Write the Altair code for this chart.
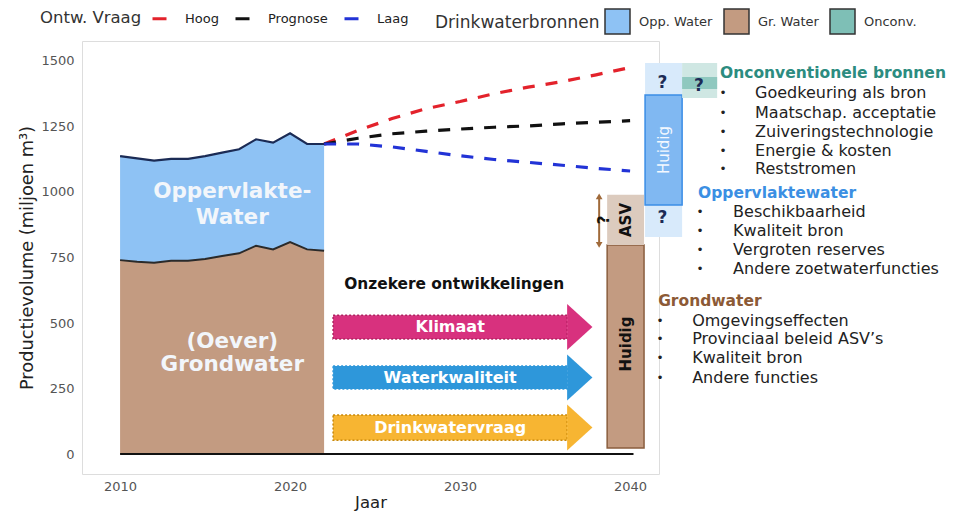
import altair as alt
import pandas as pd

# ---------------- data ----------------
jaren = list(range(2010, 2023))
totaal = [1137, 1128, 1120, 1126, 1126, 1137, 1150, 1163, 1201, 1188, 1224, 1183, 1183]
grondwater = [740, 734, 730, 738, 738, 744, 756, 766, 795, 781, 809, 781, 776]

prog_jaren = [2022, 2024, 2026, 2028, 2030, 2032, 2034, 2036, 2038, 2040]
hoog = [1183, 1235, 1280, 1318, 1345, 1375, 1400, 1421, 1447, 1475]
prognose = [1183, 1205, 1222, 1232, 1240, 1247, 1252, 1260, 1266, 1272]
laag = [1183, 1183, 1172, 1155, 1138, 1124, 1113, 1102, 1090, 1080]
scenarios = ["Hoog", "Prognose", "Laag"]

bronnen = ["Opp. Water", "Gr. Water", "Onconv."]

# 2040 capacity boxes (x in years, y in miljoen m3)
box_namen = ["Opp. band", "Gr. huidig", "ASV", "Opp. huidig", "Onconv. band", "Onconv. kern"]
box_x1 = [2040.88, 2038.65, 2038.65, 2040.88, 2043.06, 2043.06]
box_x2 = [2043.06, 2040.82, 2040.82, 2043.06, 2045.12, 2045.12]
box_y1 = [828, 23, 798, 950, 1359, 1393]
box_y2 = [1492, 798, 989, 1370, 1492, 1439]

# uncertain developments (arrows)
pijl_labels = ["Klimaat", "Waterkwaliteit", "Drinkwatervraag"]
pijl_start = [2022.53, 2022.53, 2022.53]
pijl_eind = [2036.3, 2036.3, 2036.3]
pijl_kop = [2037.04, 2037.04, 2037.04]
pijl_boven = [530, 336, 149]
pijl_onder = [439, 248, 53]
pijl_midden = [485, 292, 101]

# texts
vlak_tekst = ["Oppervlakte-", "Water", "(Oever)", "Grondwater"]
vlak_x = [2016.6, 2016.6, 2016.6, 2016.6]
vlak_y = [1000, 901, 428, 340]

kop_tekst = ["Onconventionele bronnen", "Oppervlaktewater", "Grondwater"]
kop_x = [2045.29, 2044.0, 2041.65]
kop_y = [1453, 997, 585]

onconv_items = ["Goedkeuring als bron", "Maatschap. acceptatie", "Zuiveringstechnologie",
                "Energie & kosten", "Reststromen"]
onconv_y = [1377, 1303, 1230, 1158, 1087]
opp_items = ["Beschikbaarheid", "Kwaliteit bron", "Vergroten reserves", "Andere zoetwaterfuncties"]
opp_y = [922, 851, 779, 706]
grond_items = ["Omgevingseffecten", "Provinciaal beleid ASV\u2019s", "Kwaliteit bron", "Andere functies"]
grond_y = [509, 439, 366, 291]
item_x = [2047.35, 2046.06, 2043.65]
bullet_x = [2045.47, 2044.12, 2041.76]

vraag_x = [2041.9, 2041.9, 2044.05]
vraag_y = [1416, 901, 1405]

asv_pijl_x = [2038.18]
asv_pijl_y1 = [798]
asv_pijl_y2 = [983]

# ---------------- scales / encodings ----------------
FONT = "DejaVu Sans"
xs = alt.Scale(domain=[2007.76, 2041.7], nice=False, zero=False)
ys = alt.Scale(domain=[-76, 1576], nice=False, zero=False)
xax = alt.Axis(values=[2010, 2020, 2030, 2040], format="d", grid=False, ticks=False, domain=False,
               labelColor="#555", labelFontSize=13, labelPadding=6, labelFont=FONT,
               titleFontSize=16.5, titleFontWeight="normal", titleColor="#222", titleFont=FONT,
               titleBaseline="middle", titleY=28)
yax = alt.Axis(values=[0, 250, 500, 750, 1000, 1250, 1500], format="d", grid=False, ticks=False, domain=False,
               labelColor="#555", labelFontSize=13, labelPadding=8, labelFont=FONT,
               titleFontSize=17.8, titleFontWeight="normal", titleColor="#222", titlePadding=4, titleFont=FONT)
XT = "Jaar"
YT = "Productievolume (miljoen m\u00b3)"


def X(f):
    return alt.X(f + ":Q", scale=xs, axis=xax, title=XT)


def Y(f):
    return alt.Y(f + ":Q", scale=ys, axis=yax, title=YT)


def Y2(f):
    return alt.Y2(f + ":Q")


def X2(f):
    return alt.X2(f + ":Q")


# ---------------- tables ----------------
hist = pd.DataFrame({"jaar": jaren, "totaal": totaal, "gw": grondwater})
area_df = pd.DataFrame({
    "jaar": jaren * 2,
    "onder": [0] * len(jaren) + grondwater,
    "boven": grondwater + totaal,
    "bron": ["Gr. Water"] * len(jaren) + ["Opp. Water"] * len(jaren),
})
prog_df = pd.DataFrame({
    "jaar": prog_jaren * 3,
    "waarde": hoog + prognose + laag,
    "scenario": [s for s in scenarios for _ in prog_jaren],
})

fill_legend = alt.Legend(title="Drinkwaterbronnen", orient="none", legendX=353, legendY=-33,
                         direction="horizontal", titleOrient="left", titleFontSize=17,
                         titleFontWeight="normal", titleColor="#333", titleFont=FONT, titlePadding=4,
                         labelFontSize=13, labelColor="#333", labelFont=FONT, labelOffset=8,
                         columnPadding=8, symbolType="square", symbolSize=625,
                         symbolStrokeColor="#333", symbolStrokeWidth=1.5, padding=0)
stroke_legend = alt.Legend(title="Ontw. Vraag", orient="none", legendX=-42, legendY=-31,
                           direction="horizontal", titleOrient="left", titleFontSize=16.5,
                           titleFontWeight="normal", titleColor="#333", titleFont=FONT, titlePadding=9,
                           labelFontSize=13, labelColor="#222", labelFont=FONT, labelOffset=17,
                           columnPadding=10, symbolType="stroke", symbolSize=196, symbolStrokeWidth=3,
                           symbolDash=[1, 0], padding=0)

areas = alt.Chart(area_df).mark_area(opacity=1).encode(
    x=X("jaar"), y=Y("onder"), y2=Y2("boven"),
    fill=alt.Fill("bron:N", scale=alt.Scale(domain=bronnen, range=["#8EC2F4", "#C39B81", "#7EBFB6"]),
                  legend=fill_legend),
)
edge_top = alt.Chart(hist).mark_line(color="#1B2B55", strokeWidth=2.2).encode(x=X("jaar"), y=Y("totaal"))
edge_gw = alt.Chart(hist).mark_line(color="#2A2A2A", strokeWidth=2).encode(x=X("jaar"), y=Y("gw"))

prog = alt.Chart(prog_df).mark_line(strokeWidth=3.2, strokeDash=[12, 11]).encode(
    x=X("jaar"), y=Y("waarde"),
    stroke=alt.Stroke("scenario:N", scale=alt.Scale(domain=scenarios, range=["#E3222B", "#111111", "#2233D6"]),
                      legend=stroke_legend),
    detail="scenario:N",
)

base_df = pd.DataFrame({"x1": [2010], "x2": [2040.2], "y": [0]})
baseline = alt.Chart(base_df).mark_rule(color="#111", strokeWidth=2).encode(x=X("x1"), x2=X2("x2"), y=Y("y"))

# boxes
box_df = pd.DataFrame({"naam": box_namen, "x1": box_x1, "x2": box_x2, "y1": box_y1, "y2": box_y2})
box_style = {
    "Opp. band": dict(fill="#D8EAFB", stroke=None),
    "Gr. huidig": dict(fill="#C39B81", stroke="#8A5E3E", strokeWidth=1.5),
    "ASV": dict(fill="#DCCBBE", stroke=None),
    "Opp. huidig": dict(fill="#80B8F2", stroke="#3A8DE6", strokeWidth=1.5),
    "Onconv. band": dict(fill="#CFE7E3", stroke=None),
    "Onconv. kern": dict(fill="#8FC8BF", stroke=None),
}
boxes = []
for naam in box_namen:
    st = {k: v for k, v in box_style[naam].items() if v is not None}
    boxes.append(
        alt.Chart(box_df).transform_filter(alt.datum.naam == naam).mark_rect(**st).encode(
            x=X("x1"), x2=X2("x2"), y=Y("y1"), y2=Y2("y2"))
    )

# ASV double arrow
asv_df = pd.DataFrame({"x": asv_pijl_x, "y1": asv_pijl_y1, "y2": asv_pijl_y2})
asv_rule = alt.Chart(asv_df).mark_rule(color="#A06A3A", strokeWidth=2).encode(x=X("x"), y=Y("y1"), y2=Y2("y2"))
asv_top = alt.Chart(asv_df).mark_point(shape="triangle-up", filled=True, size=45, color="#A06A3A", opacity=1).encode(
    x=X("x"), y=Y("y2"))
asv_bot = alt.Chart(asv_df).mark_point(shape="triangle-down", filled=True, size=45, color="#A06A3A", opacity=1).encode(
    x=X("x"), y=Y("y1"))

# arrows
pijl_df = pd.DataFrame({"label": pijl_labels, "x1": pijl_start, "x2": pijl_eind, "xk": pijl_kop,
                        "y1": pijl_onder, "y2": pijl_boven, "ym": pijl_midden})
pijl_kleur = alt.Scale(domain=pijl_labels, range=["#D8317E", "#2E97DA", "#F7B532"])
pijl_rand = alt.Scale(domain=pijl_labels, range=["#B02060", "#2E97DA", "#C8880A"])
pijl_body = alt.Chart(pijl_df).mark_rect(strokeWidth=1.5, strokeDash=[2, 2]).encode(
    x=X("x1"), x2=X2("x2"), y=Y("y1"), y2=Y2("y2"),
    fill=alt.Fill("label:N", scale=pijl_kleur, legend=None),
    stroke=alt.Stroke("label:N", scale=pijl_rand, legend=None),
)
pijl_head = alt.Chart(pijl_df).mark_point(shape="M -0.55 -1 L 0.55 0 L -0.55 1 Z", size=2116, filled=True,
                                          opacity=1, strokeWidth=0).encode(
    x=X("xk"), y=Y("ym"), fill=alt.Fill("label:N", scale=pijl_kleur, legend=None),
)
pijl_text = alt.Chart(pijl_df).mark_text(font=FONT, fontWeight="bold", fontSize=16, color="white").encode(
    x=alt.X("xt:Q", scale=xs, axis=xax, title=XT), y=Y("ym"), text="label:N"
).transform_calculate(xt="(datum.x1 + datum.x2) / 2")

# texts
vlak_df = pd.DataFrame({"t": vlak_tekst, "x": vlak_x, "y": vlak_y})
vlak = alt.Chart(vlak_df).mark_text(font=FONT, fontWeight="bold", fontSize=21.5, color="#F2F6FB").encode(
    x=X("x"), y=Y("y"), text="t:N")

onz_df = pd.DataFrame({"t": ["Onzekere ontwikkelingen"], "x": [2029.65], "y": [649]})
onz = alt.Chart(onz_df).mark_text(font=FONT, fontWeight="bold", fontSize=15.4, color="#111").encode(
    x=X("x"), y=Y("y"), text="t:N")

vraag_df = pd.DataFrame({"t": ["?", "?", "?"], "x": vraag_x, "y": vraag_y})
vraag = alt.Chart(vraag_df).mark_text(font=FONT, fontWeight="bold", fontSize=17, color="#1C2A55").encode(
    x=X("x"), y=Y("y"), text="t:N")

rot_df = pd.DataFrame({"t": ["ASV", "Huidig", "?"], "x": [2039.75, 2039.75, 2038.45], "y": [893, 420, 893]})
rot = alt.Chart(rot_df).mark_text(font=FONT, fontWeight="bold", fontSize=15, color="#111", angle=270).encode(
    x=X("x"), y=Y("y"), text="t:N")
rot2_df = pd.DataFrame({"t": ["Huidig"], "x": [2041.97], "y": [1160]})
rot2 = alt.Chart(rot2_df).mark_text(font=FONT, fontSize=15, color="#F4F8FF", angle=270).encode(
    x=X("x"), y=Y("y"), text="t:N")

kop_kleuren = ["#2C8C80", "#3B8FE3", "#8C5A36"]
koppen = []
for i in range(3):
    d = pd.DataFrame({"t": [kop_tekst[i]], "x": [kop_x[i]], "y": [kop_y[i]]})
    koppen.append(alt.Chart(d).mark_text(font=FONT, fontWeight="bold", fontSize=15.5, color=kop_kleuren[i],
                                         align="left").encode(x=X("x"), y=Y("y"), text="t:N"))

groepen = [onconv_items, opp_items, grond_items]
groep_y = [onconv_y, opp_y, grond_y]
items_rows = []
bullet_rows = []
for g in range(3):
    for t, yy in zip(groepen[g], groep_y[g]):
        items_rows.append({"t": t, "x": item_x[g], "y": yy})
        bullet_rows.append({"t": "\u2022", "x": bullet_x[g], "y": yy})
items = alt.Chart(pd.DataFrame(items_rows)).mark_text(font=FONT, fontSize=16, color="#222", align="left").encode(
    x=X("x"), y=Y("y"), text="t:N")
bullets = alt.Chart(pd.DataFrame(bullet_rows)).mark_text(font=FONT, fontSize=12, color="#222").encode(
    x=X("x"), y=Y("y"), text="t:N")

chart = alt.layer(
    areas, edge_top, edge_gw, prog, baseline,
    *boxes, asv_rule, asv_top, asv_bot,
    pijl_body, pijl_head, pijl_text,
    vlak, onz, vraag, rot, rot2, *koppen, items, bullets,
).resolve_scale(fill="independent", stroke="independent").properties(
    width=577, height=433,
    autosize=alt.AutoSizeParams(type="none"),
    padding={"left": 74, "top": 33, "right": 287, "bottom": 37},
).configure_view(stroke="#777", strokeWidth=1.5).configure(font=FONT)

chart.save("out.html", embed_options={"renderer": "svg", "actions": False})
